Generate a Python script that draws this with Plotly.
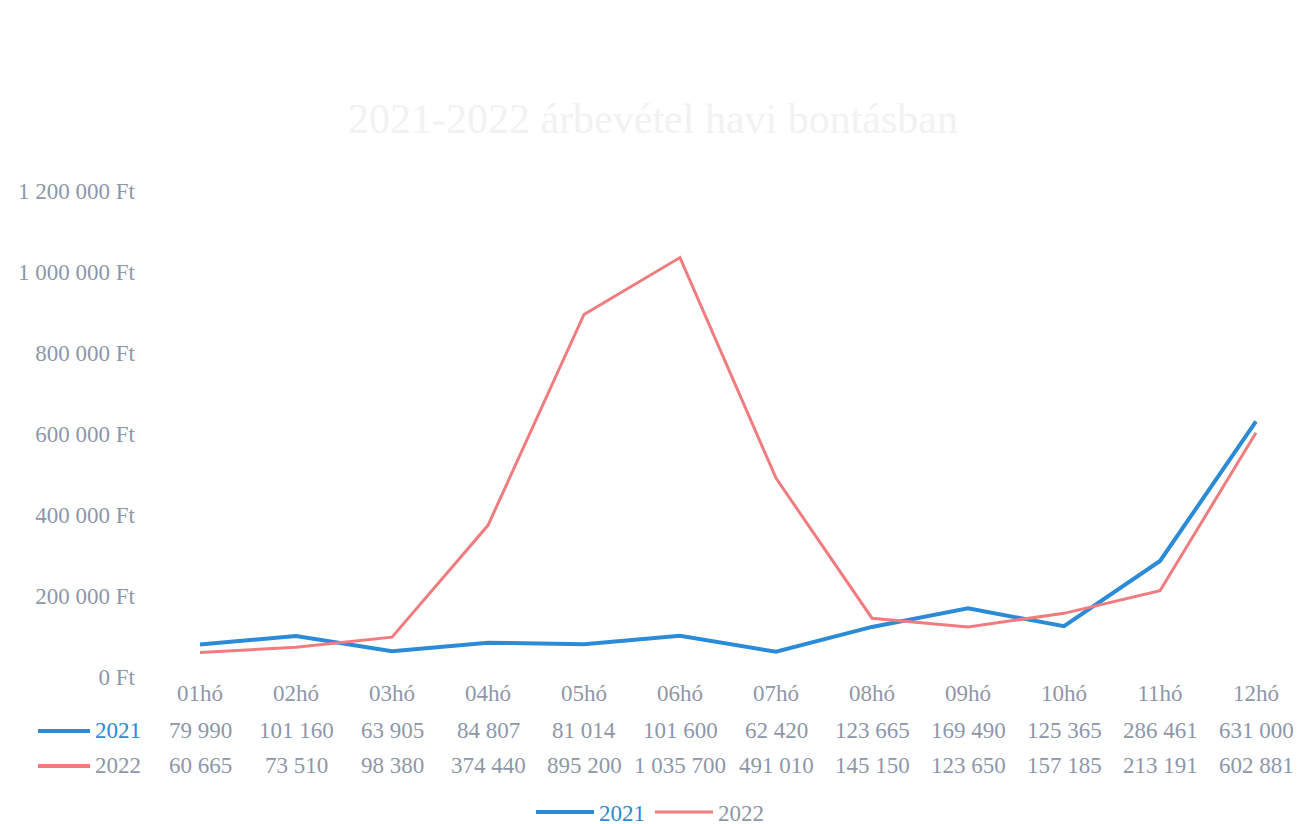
import plotly.graph_objects as go

months = ["01hó", "02hó", "03hó", "04hó", "05hó", "06hó", "07hó", "08hó", "09hó", "10hó", "11hó", "12hó"]
sales_2021 = [79990, 101160, 63905, 84807, 81014, 101600, 62420, 123665, 169490, 125365, 286461, 631000]
sales_2022 = [60665, 73510, 98380, 374440, 895200, 1035700, 491010, 145150, 123650, 157185, 213191, 602881]
series_names = ["2021", "2022"]
series_colors = ["#2b8bd6", "#f07c80"]
label_colors = ["#2b8bd6", "#8e97a8"]
title_text = "2021-2022 árbevétel havi bontásban"

FONT = "Liberation Serif"
TXT = "#8e97a8"
FS = 23

fig = go.Figure()
for name, vals, col, lc, w in zip(series_names, [sales_2021, sales_2022], series_colors, label_colors, [4, 3]):
    fig.add_trace(go.Scatter(x=months, y=vals, mode="lines",
                             name=f"<span style='color:{lc}'>{name}</span>",
                             line=dict(color=col, width=w)))

def fmt(v):
    return f"{v:,}".replace(",", " ")

row_y = [-0.111, -0.183]
for vals, ry, name, col, lc in zip([sales_2021, sales_2022], row_y, series_names, series_colors, label_colors):
    for m, v in zip(months, vals):
        fig.add_annotation(x=m, y=ry, xref="x", yref="paper", text=fmt(v),
                           xanchor="center", yanchor="middle",
                           showarrow=False, font=dict(family=FONT, size=FS, color=TXT))
    # legend key in the data table
    fig.add_shape(type="line", xref="paper", yref="paper",
                  x0=(38 - 152) / 1152, x1=(90 - 152) / 1152, y0=ry, y1=ry,
                  line=dict(color=col, width=4))
    fig.add_annotation(x=(93 - 152) / 1152, y=ry, xref="paper", yref="paper", text=name,
                       xanchor="left", yanchor="middle", showarrow=False,
                       font=dict(family=FONT, size=FS, color=lc))

fig.update_layout(
    width=1304, height=824,
    margin=dict(l=144, r=8, t=183, b=155, autoexpand=False),
    paper_bgcolor="white", plot_bgcolor="white",
    separators=", ",
    font=dict(family=FONT, size=FS, color=TXT),
    title=dict(text=title_text, x=645 / 1304, xref="container", xanchor="center",
               y=1 - 110 / 824, yanchor="middle",
               font=dict(family=FONT, size=42, color="#f2f2f2")),
    showlegend=True,
    legend=dict(orientation="h", x=(650 - 152) / 1152, xanchor="center",
                y=(677 - 812) / 486, yanchor="middle", itemwidth=58,
                font=dict(family=FONT, size=FS, color=TXT)),
    xaxis=dict(range=[-0.5, 11.5], showgrid=False, showline=False, zeroline=False,
               ticks="", automargin=False,
               tickfont=dict(family=FONT, size=FS, color=TXT)),
    yaxis=dict(range=[0, 1200000], dtick=200000, tickformat=",d", ticksuffix=" Ft",
               showgrid=False, zeroline=False, showline=False, ticks="",
               ticklabelstandoff=16, automargin=False,
               tickfont=dict(family=FONT, size=FS, color=TXT)),
)

fig.write_html("out.html")
